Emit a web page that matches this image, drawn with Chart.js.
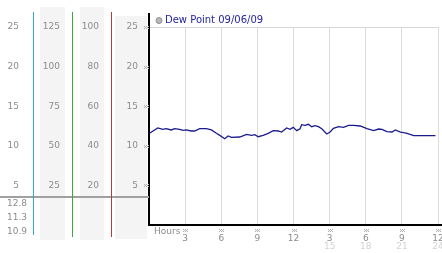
<!DOCTYPE html>
<html><head><meta charset="utf-8">
<script src="https://cdn.jsdelivr.net/npm/chart.js@4.4.0/dist/chart.umd.min.js"></script>
<style>html,body{margin:0;padding:0;background:#fff;overflow:hidden}#wrap{width:442px;height:253px}</style>
</head><body><div id="wrap"><canvas id="c" width="442" height="253"></canvas></div>
<script>
const seriesLabel = 'Dew Point 09/06/09';
const hours = [0.04,0.73,1.15,1.43,1.85,2.13,2.54,2.82,3.1,3.51,3.79,4.21,4.76,5.18,5.6,5.88,6.29,6.57,6.85,7.54,8.1,8.51,8.79,9.07,9.48,9.9,10.32,10.73,11.01,11.43,11.71,11.98,12.27,12.54,12.68,12.96,13.23,13.51,13.79,14.07,14.35,14.76,15.04,15.32,15.74,16.15,16.57,16.99,17.54,18.1,18.65,19.07,19.35,19.76,20.18,20.46,20.88,21.15,21.43,21.99,22.82,23.79];
const dewPoint = [11.58,12.25,12.08,12.16,12.0,12.16,12.08,11.95,12.0,11.87,11.87,12.16,12.16,12.0,11.58,11.32,10.9,11.24,11.07,11.11,11.45,11.32,11.4,11.15,11.32,11.58,11.91,11.87,11.74,12.25,12.08,12.33,11.91,12.16,12.66,12.58,12.71,12.41,12.54,12.41,12.16,11.49,11.74,12.2,12.41,12.33,12.58,12.58,12.5,12.16,11.91,12.12,12.08,11.78,11.74,12.0,11.74,11.65,11.58,11.28,11.28,11.28];
const xTickLabels = ['3','6','9','12','3','6','9','12'];
const xTickLabels2 = ['','','','','15','18','21','24'];
const xAxisTitle = 'Hours';
const statLabels = ['12.8','11.3','10.9'];
const col1Range = [0,25,5];
const col2Range = [0,125,25];
const col3Range = [0,100,20];
const mainRange = [0,25,5];

const FONT = '"DejaVu Sans", Verdana, sans-serif';
const GRAY = '#8c8c8c';

function sideAxis(range, w, pad, weight){
  return {
    position:'left', weight, min:range[0], max:range[1],
    grid:{display:false, drawTicks:false}, border:{display:false},
    ticks:{stepSize:range[2], padding:pad, color:GRAY, font:{family:FONT,size:9},
      callback:v => v===0 ? null : String(v)},
    afterFit(s){ s.width = w; s.paddingTop=0; s.paddingBottom=0; }
  };
}

function mark(c,x,y){
  c.fillStyle='#b0b0b0';
  const px=[[-2,-1],[0,-1],[2,-1],[-1,0],[1,0],[-2,1],[0,1],[2,1]];
  px.forEach(p=>c.fillRect(Math.round(x+p[0]),Math.round(y+p[1]),1,1));
}

const deco = {
  id:'deco',
  beforeDraw(chart){
    const c=chart.ctx, s=chart.scales;
    c.save(); c.fillStyle='#f4f4f4';
    c.fillRect(s.yB.left+7, 7, s.yB.width-14, 233);
    c.fillRect(s.yC.left+8, 7, s.yC.width-15, 233);
    c.fillRect(s.y.left+4, 16, s.y.width-6, 223);
    c.restore();
  },
  afterDraw(chart){
    const c=chart.ctx, s=chart.scales, a=chart.chartArea;
    c.save();
    // separator
    c.fillStyle='#a0a0a0';
    c.fillRect(0,196,a.left,2);
    // colored column lines
    const lines=[[s.yA.right,'#3aa6c8',235],[s.yB.right,'#3aa83a',237],[s.yC.right,'#b83a3a',237]];
    lines.forEach(l=>{c.fillStyle=l[1]; c.fillRect(Math.round(l[0]),12,1,l[2]-12);});
    // axis extensions
    c.fillStyle='#000';
    c.fillRect(a.left-1,13,2,a.top-13);
    c.fillRect(a.right,a.bottom-1,442-a.right,2);
    // y markers
    s.y.ticks.forEach(t=>{ if(t.value>0) mark(c, a.left-3.5, s.y.getPixelForValue(t.value)); });
    // x markers and second row
    c.font='9px '+FONT; c.textAlign='center'; c.textBaseline='middle';
    s.x.ticks.forEach((t,i)=>{
      if(t.value<=0) return;
      const x=s.x.getPixelForValue(t.value);
      mark(c,x,229.5);
      const l2=xTickLabels2[t.value/3-1];
      if(l2){ c.fillStyle='#d2d2d2'; c.fillText(l2,x,247); }
    });
    // Hours
    c.fillStyle=GRAY; c.textAlign='left';
    c.fillText(xAxisTitle, a.left+5, 232);
    // stats
    c.textAlign='right';
    statLabels.forEach((t,i)=>c.fillText(t,27,204+i*14));
    // legend
    c.beginPath(); c.arc(159,20.5,3,0,Math.PI*2);
    c.fillStyle='#b8b8b8'; c.fill(); c.strokeStyle='#909090'; c.lineWidth=1; c.stroke();
    c.font='10px '+FONT; c.textAlign='left'; c.fillStyle='#2323a0';
    c.fillText(chart.data.datasets[0].label, 165, 20.5);
    c.restore();
  }
};

new Chart(document.getElementById('c'), {
  type:'line',
  data:{datasets:[{label:seriesLabel, data:hours.map((h,i)=>({x:h,y:dewPoint[i]})),
    borderColor:'#1b1b8e', borderWidth:1.3, pointRadius:0, tension:0, fill:false, yAxisID:'y'}]},
  options:{
    responsive:false, animation:false, devicePixelRatio:1,
    layout:{padding:{top:27,right:4,left:0,bottom:0}},
    plugins:{legend:{display:false}, tooltip:{enabled:false}},
    scales:{
      x:{type:'linear', min:0, max:24,
        grid:{color:'#dcdcdc', drawTicks:false}, border:{color:'#000', width:2},
        ticks:{stepSize:3, padding:8, color:GRAY, font:{family:FONT,size:9}, maxRotation:0, autoSkip:false,
          callback:v => v===0 ? null : xTickLabels[v/3-1]},
        afterFit(s){ s.height=28; s.paddingLeft=0; s.paddingRight=0; }
      },
      yA: sideAxis(col1Range, 33, 14, 4),
      yB: sideAxis(col2Range, 39, 12, 3),
      yC: sideAxis(col3Range, 39, 12, 2),
      y:{position:'left', weight:1, min:mainRange[0], max:mainRange[1],
        grid:{drawTicks:false, color:ctx => ctx.tick && ctx.tick.value===25 ? '#d8d8d8' : 'rgba(0,0,0,0)'},
        border:{color:'#000', width:2},
        ticks:{stepSize:mainRange[2], padding:11, color:GRAY, font:{family:FONT,size:9},
          callback:v => v===0 ? null : String(v)},
        afterFit(s){ s.width=38; s.paddingTop=0; s.paddingBottom=0; }
      }
    }
  },
  plugins:[deco]
});
</script></body></html>
